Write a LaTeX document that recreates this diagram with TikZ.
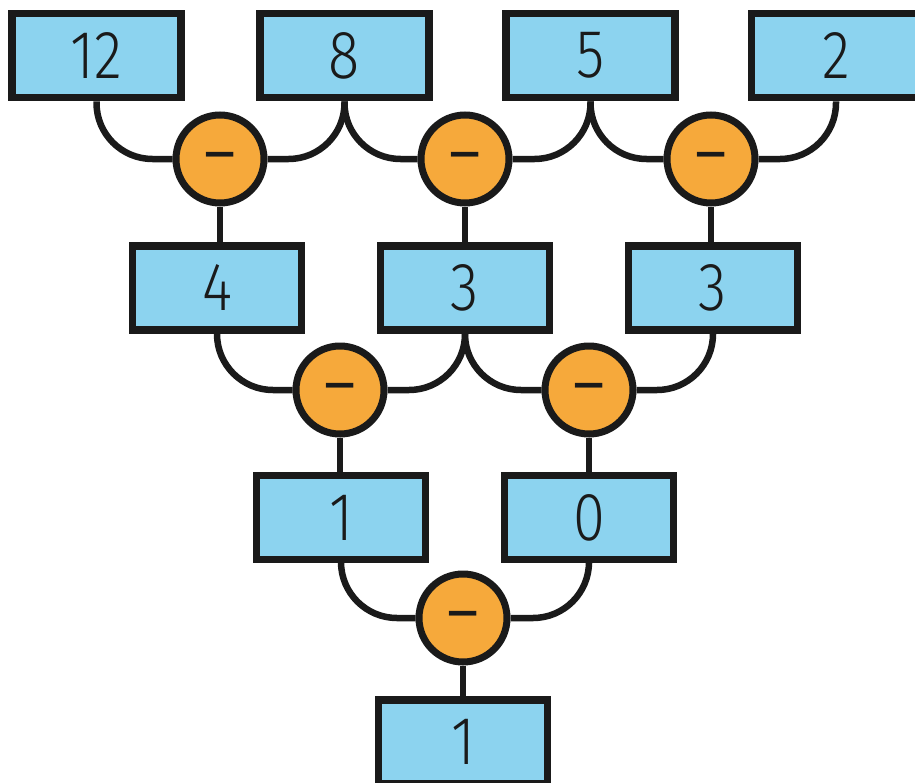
\documentclass[tikz,border=0pt]{standalone}
\usepackage{fontspec}
\setmainfont{Fira Sans}[UprightFont=* Light,FakeStretch=0.85]
\newfontfamily\opfont{Fira Sans}
\definecolor{boxblue}{HTML}{8CD3EF}
\definecolor{opor}{HTML}{F6A93B}
\definecolor{ink}{HTML}{1A1A1A}
\newcommand{\opsign}{\smash{\raisebox{-0.24em}{–}}}
\begin{document}
\begin{tikzpicture}[x=1pt,y=-1pt,
  numbox/.style={draw=ink,line width=7.5pt,fill=boxblue,minimum width=169pt,minimum height=84pt,
    inner sep=0pt,font=\fontsize{68}{68}\selectfont,text=ink},
  minus/.style={circle,draw=ink,line width=7pt,fill=opor,minimum size=88pt,inner sep=0pt,
    font=\opfont\fontsize{60}{60}\selectfont,text=ink},
  link/.style={draw=ink,line width=6.5pt,rounded corners=56pt}]
\useasboundingbox (0,0) rectangle (915,782);
% row 1
\node[numbox] (a1) at (96.5,55.5) {12};
\node[numbox] (a2) at (344.5,55.5) {8};
\node[numbox] (a3) at (590.5,55.5) {5};
\node[numbox] (a4) at (836,55.5) {2};
\node[minus] (m1) at (220,159) {\opsign};
\node[minus] (m2) at (465,159) {\opsign};
\node[minus] (m3) at (711,159) {\opsign};
% row 2
\node[numbox] (b1) at (217,288) {4};
\node[numbox] (b2) at (465,288) {3};
\node[numbox] (b3) at (713,288) {3};
\node[minus] (n1) at (340,390) {\opsign};
\node[minus] (n2) at (589,390) {\opsign};
% row 3
\node[numbox] (c1) at (341,517.5) {1};
\node[numbox] (c2) at (589,517.5) {0};
\node[minus] (p1) at (463,618) {\opsign};
% row 4
\node[numbox] (d1) at (463,742) {1};
% connectors into each operator
\draw[link] (a1.south) |- (m1.west);
\draw[link] (a2.south) |- (m1.east);
\draw[link] (a2.south) |- (m2.west);
\draw[link] (a3.south) |- (m2.east);
\draw[link] (a3.south) |- (m3.west);
\draw[link] (a4.south) |- (m3.east);
\draw[link] (b1.south) |- (n1.west);
\draw[link] (b2.south) |- (n1.east);
\draw[link] (b2.south) |- (n2.west);
\draw[link] (b3.south) |- (n2.east);
\draw[link] (c1.south) |- (p1.west);
\draw[link] (c2.south) |- (p1.east);
% results, dropped straight down from each operator
\draw[link] (m1.south) -- (m1.south |- b1.north);
\draw[link] (m2.south) -- (m2.south |- b2.north);
\draw[link] (m3.south) -- (m3.south |- b3.north);
\draw[link] (n1.south) -- (n1.south |- c1.north);
\draw[link] (n2.south) -- (n2.south |- c2.north);
\draw[link] (p1.south) -- (p1.south |- d1.north);
\end{tikzpicture}
\end{document}
